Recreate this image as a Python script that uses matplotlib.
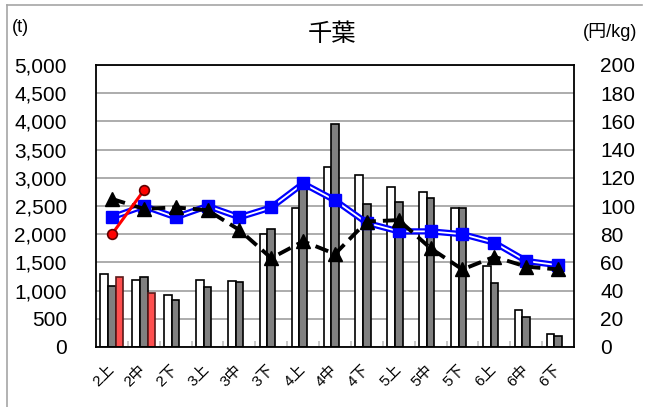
import matplotlib
matplotlib.use("Agg")
import matplotlib.pyplot as plt
import matplotlib.transforms as mtransforms
import numpy as np
from matplotlib.lines import Line2D

plt.rcParams['font.family'] = ['Liberation Sans', 'Noto Sans CJK JP', 'DejaVu Sans']

# Half-month periods
categories = ['2上', '2中', '2下', '3上', '3中', '3下', '4上', '4中', '4下',
              '5上', '5中', '5下', '6上', '6中', '6下']

# Quantities (t)
qty_white = [1290, 1190, 930, 1190, 1170, 2000, 2470, 3190, 3050, 2840, 2750, 2460, 1440, 660, 230]
qty_gray = [1090, 1250, 840, 1060, 1150, 2090, 2900, 3950, 2540, 2570, 2650, 2460, 1130, 530, 200]
qty_red = [1250, 960]

# Prices (円/kg)
price_blue = [92, 100, 92, 100, 92, 99, 116, 104, 88, 82, 82, 80, 74, 61, 58]
price_black = [105, 98, 99, 97, 83, 63, 75, 66, 89, 90, 70, 55, 64, 57, 55]
price_red = [80, 111]

W, H = 648, 407
fig = plt.figure(figsize=(W / 100, H / 100), dpi=100)

# outer frame (top and left edges)
fig.add_artist(Line2D([7 / W, 642 / W], [1 - 5 / H, 1 - 5 / H], color='#a6a6a6', lw=1.2))
fig.add_artist(Line2D([7 / W, 7 / W], [0, 1 - 5 / H], color='#a6a6a6', lw=1.2))

ax = fig.add_axes([96 / W, (H - 347) / H, (574 - 96) / W, (347 - 65) / H])
x = np.arange(len(categories))
bw = 0.24

ax.bar(x - bw, qty_white, bw, color='white', edgecolor='black', lw=1.2, zorder=2)
ax.bar(x, qty_gray, bw, color='#808080', edgecolor='black', lw=1.2, zorder=2)
ax.bar(x[:len(qty_red)] + bw, qty_red, bw, color='#ff4f4f', edgecolor='#5a1a1a', lw=1.2, zorder=2)

ax.set_xlim(-0.5, len(categories) - 0.5)
ax.set_ylim(0, 5000)
ax.set_yticks(np.arange(0, 5001, 500))
ax.set_yticklabels([f'{v:,}' for v in range(0, 5001, 500)], fontsize=15)
ax.yaxis.grid(True, color='#a6a6a6', lw=1.3, zorder=0)
ax.set_axisbelow(True)
ax.tick_params(axis='y', length=0, pad=21)

ax.set_xticks(x)
ax.set_xticklabels(categories, rotation=45, ha='right', va='top', fontsize=11)
ax.tick_params(axis='x', length=0, pad=11)
shift = mtransforms.ScaledTranslation(5 / 100, 0, fig.dpi_scale_trans)
for lbl in ax.get_xticklabels():
    lbl.set_transform(lbl.get_transform() + shift)
ax.set_xticks(np.arange(0.5, len(categories) - 0.5, 1), minor=True)
ax.tick_params(axis='x', which='minor', direction='in', length=4, color='#bfbfbf', width=1.2)

for s in ax.spines.values():
    s.set_linewidth(1.3)
    s.set_color('black')

ax2 = ax.twinx()
ax2.set_ylim(0, 200)
ax2.set_yticks(np.arange(0, 201, 20))
ax2.tick_params(axis='y', length=0, pad=19, labelsize=15)
for s in ax2.spines.values():
    s.set_visible(False)

# blue double line
ax2.plot(x, price_blue, color='#0000ff', lw=4.5, zorder=3, solid_joinstyle='miter')
ax2.plot(x, price_blue, color='white', lw=1.3, zorder=3.1)
ax2.plot(x, price_blue, ls='none', marker='s', ms=8, mfc='#0000ff', mec='#0000ff', zorder=3.2)

# black dashed line
ax2.plot(x, price_black, color='black', lw=2.8, ls=(0, (3.5, 1.8)), marker='^', ms=9.5,
         mfc='black', mec='black', zorder=4)

# red line
ax2.plot(x[:len(price_red)], price_red, color='#ff0000', lw=2.2, marker='o', ms=7,
         mfc='#ff0000', mec='#600000', mew=1.2, zorder=5)

fig.text(332 / W, 1 - 35 / H, '千葉', ha='center', va='center', fontsize=17.5)
fig.text(12 / W, 1 - 27 / H, '(t)', ha='left', va='center', fontsize=13)
fig.text(637 / W, 1 - 32 / H, '(円/kg)', ha='right', va='center', fontsize=13)

fig.savefig('out.png', dpi=100)
